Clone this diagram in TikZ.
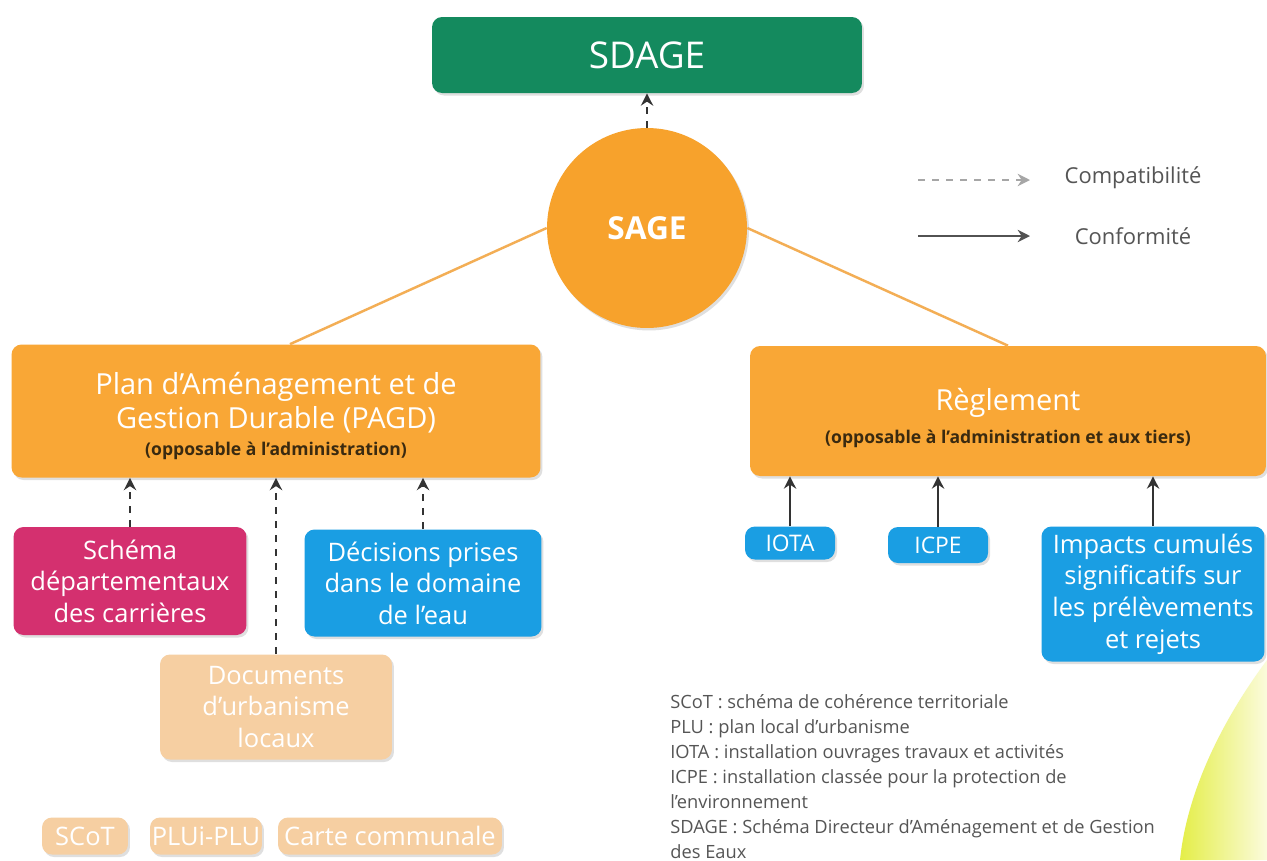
\documentclass[tikz,border=0pt]{standalone}
\usepackage{fontspec}
\setmainfont{Open Sans}
\usetikzlibrary{arrows.meta,shadows}
\definecolor{sdagegreen}{HTML}{148A5E}
\definecolor{sageorange}{HTML}{F7A22C}
\definecolor{boxorange}{HTML}{F9A736}
\definecolor{linkorange}{HTML}{F3AE55}
\definecolor{magentabox}{HTML}{D4306F}
\definecolor{bluebox}{HTML}{1A9EE3}
\definecolor{palebox}{HTML}{F6CFA2}
\definecolor{arrowgrey}{HTML}{333333}
\definecolor{txtdark}{HTML}{3A2A10}
\definecolor{notegrey}{HTML}{555555}
\definecolor{crescA}{HTML}{E4EE48}
\definecolor{crescB}{HTML}{FBFBDC}
\tikzset{
  bx/.style={rounded corners=0.2cm, inner sep=0pt, align=center, text=white,
             drop shadow={opacity=0.25, shadow xshift=0.04cm, shadow yshift=-0.05cm}},
  comp/.style={draw=arrowgrey, line width=1.3pt, dashed, dash pattern=on 4pt off 4pt, -{Stealth[length=7pt,width=7pt]}},
  conf/.style={draw=arrowgrey, line width=1.6pt, -{Stealth[length=7pt,width=7pt]}},
  lnk/.style={draw=linkorange, line width=1.4pt},
  mid/.style={font=\fontsize{14.5}{18}\selectfont},
  txt/.style={inner sep=0pt, align=center, text=white}
}
\begin{document}
\begin{tikzpicture}[x=0.02cm,y=-0.02cm]
\useasboundingbox[fill=white] (0,0) rectangle (1267,860);
% yellow crescent
\shade[left color=crescA, right color=crescB] (1267,660) .. controls (1215,730) and (1186,800) .. (1180,860) -- (1267,860) -- cycle;

\node[bx, fill=sdagegreen, minimum width=8.6cm, minimum height=1.52cm, font=\fontsize{21}{24}\selectfont] (sdage) at (647,55) {SDAGE};
\node[circle, inner sep=0pt, fill=sageorange, minimum size=4cm, text=white, font=\fontsize{18}{22}\selectfont\bfseries,
      drop shadow={opacity=0.25, shadow xshift=0.04cm, shadow yshift=-0.05cm}] (sage) at (647,228) {SAGE};

\node[bx, fill=boxorange, minimum width=10.58cm, minimum height=2.66cm] (pagd) at (276,411) {};
\node[txt] (pagdt) at (276,416)
  {\fontsize{16.5}{19}\selectfont Plan d'Aménagement et de\\[2pt]\fontsize{16.5}{19}\selectfont Gestion Durable (PAGD)\\[3pt]{\color{txtdark}\fontsize{10}{12}\selectfont\bfseries (opposable à l'administration)}};
\node[bx, fill=boxorange, minimum width=10.32cm, minimum height=2.6cm] (regl) at (1008,411) {};
\node[txt] (reglt) at (1008,418)
  {\fontsize{16.5}{19}\selectfont Règlement\\[6.5pt]{\color{txtdark}\fontsize{10}{12}\selectfont\bfseries (opposable à l'administration et aux tiers)}};

\node[bx, fill=magentabox, minimum width=4.66cm, minimum height=2.16cm, mid] (schema) at (130,581) {Schéma\\départementaux\\des carrières};
\node[bx, fill=bluebox, minimum width=4.74cm, minimum height=2.14cm, mid] (decis) at (423,583) {Décisions prises\\dans le domaine\\de l'eau};
\node[bx, fill=palebox, minimum width=4.64cm, minimum height=2.1cm, mid] (docs) at (276,707) {Documents\\d'urbanisme\\locaux};

\node[bx, fill=palebox, minimum width=1.72cm, minimum height=0.74cm, mid] (scot) at (85,836) {SCoT};
\node[bx, fill=palebox, minimum width=2.24cm, minimum height=0.74cm, mid] (plu) at (206,836) {PLUi-PLU};
\node[bx, fill=palebox, minimum width=4.48cm, minimum height=0.74cm, mid] (carte) at (390,836) {Carte communale};

\node[bx, fill=bluebox, minimum width=1.8cm, minimum height=0.66cm, font=\fontsize{13}{16}\selectfont] (iota) at (790,543) {IOTA};
\node[bx, fill=bluebox, minimum width=2.0cm, minimum height=0.72cm, font=\fontsize{13}{16}\selectfont] (icpe) at (938,545) {ICPE};
\node[bx, fill=bluebox, minimum width=4.46cm, minimum height=2.7cm, mid] (imp) at (1153,594) {Impacts cumulés\\significatifs sur\\les prélèvements\\et rejets};

% connectors
\draw[comp] (sage.north) -- (sdage.south);
\draw[lnk] (sage.west) -- (pagd.north -| 290,0);
\draw[lnk] (sage.east) -- (regl.north);
\draw[comp] (schema.north) -- (schema.north |- pagd.south);
\draw[comp] (docs.north) -- (docs.north |- pagd.south);
\draw[comp] (decis.north) -- (decis.north |- pagd.south);
\draw[conf] (iota.north) -- (iota.north |- regl.south);
\draw[conf] (icpe.north) -- (icpe.north |- regl.south);
\draw[conf] (imp.north) -- (imp.north |- regl.south);

% legend
\coordinate (l1a) at (918,180); \coordinate (l1b) at (1030,180);
\coordinate (l2a) at (918,236); \coordinate (l2b) at (1030,236);
\draw[comp, draw=gray!70] (l1a) -- (l1b);
\draw[conf, draw=gray!40!arrowgrey] (l2a) -- (l2b);
\node[text=notegrey, font=\fontsize{12.5}{15}\selectfont] (lc1) at (1133,178) {Compatibilité};
\node[text=notegrey, font=\fontsize{12.5}{15}\selectfont] (lc2) at (1133,236) {Conformité};

% notes
\node[anchor=north west, inner sep=0pt, align=left, text=notegrey, font=\fontsize{10.4}{14.2}\selectfont] (notes) at (670,694)
{SCoT : schéma de cohérence territoriale\\
PLU : plan local d'urbanisme\\
IOTA : installation ouvrages travaux et activités\\
ICPE : installation classée pour la protection de\\
l'environnement\\
SDAGE : Schéma Directeur d'Aménagement et de Gestion\\
des Eaux};
\end{tikzpicture}
\end{document}
